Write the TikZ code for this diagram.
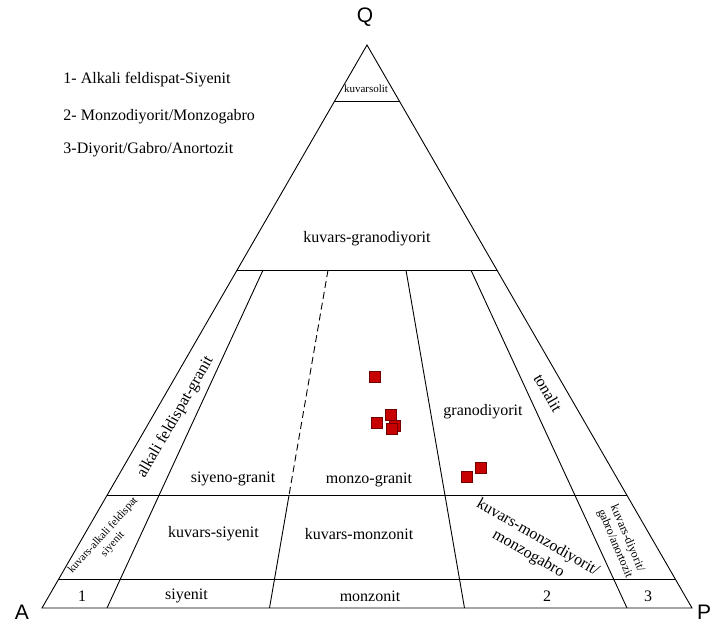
\documentclass[tikz,border=0pt]{standalone}
\usepackage{fontspec}
\setmainfont{Liberation Serif}
\newfontfamily\sansf{Liberation Sans}
\begin{document}
\begin{tikzpicture}[x=1pt,y=-1pt, line width=0.9pt,
  lbl/.style={font=\fontsize{16}{19}\selectfont, align=center, inner sep=0pt},
  smalllbl/.style={font=\fontsize{11}{13.2}\selectfont, align=center, inner sep=0pt},
  leg/.style={font=\fontsize{16}{19}\selectfont, anchor=west, inner sep=0pt},
  vtx/.style={font=\sansf\fontsize{21}{24}\selectfont, inner sep=0pt},
  sample/.style={draw=red!45!black, fill=red!78!black, line width=0.4pt, minimum size=11pt, inner sep=0pt},
  dashline/.style={dashed, dash pattern=on 7pt off 4pt}]
\useasboundingbox (0,0) rectangle (713,626);
\clip (0,0) rectangle (713,626);
% vertices
\coordinate (A) at (42,608);
\coordinate (P) at (692,608);
\coordinate (Q) at (367,45);
% horizontal levels
\coordinate (L90) at (334.5,101.3); \coordinate (R90) at (399.5,101.3);
\coordinate (L60) at (237,270.2);   \coordinate (R60) at (497,270.2);
\coordinate (L20) at (107,495.4);   \coordinate (R20) at (627,495.4);
\coordinate (L05) at (58.25,579.85);\coordinate (R05) at (675.75,579.85);
% radial lines
\coordinate (a60) at (263,270.2); \coordinate (a20) at (159,495.4); \coordinate (a0) at (107,608);
\coordinate (b60) at (328,270.2); \coordinate (b20) at (289,495.4); \coordinate (b0) at (269.5,608);
\coordinate (c60) at (406,270.2); \coordinate (c20) at (445,495.4); \coordinate (c0) at (464.5,608);
\coordinate (d60) at (471,270.2); \coordinate (d20) at (575,495.4); \coordinate (d0) at (627,608);
% outline
\draw (A) -- (P) -- (Q) -- cycle;
\draw (L90) -- (R90);
\draw (L60) -- (R60);
\draw (L20) -- (R20);
\draw (L05) -- (R05);
\draw (a60) -- (a0);
\draw[dashline] (b60) -- (b20);
\draw (b20) -- (b0);
\draw (c60) -- (c0);
\draw (d60) -- (d0);
% vertex labels
\node[vtx] (lQ) at (365,17) {Q};
\node[vtx] (lA) at (22,612.5) {A};
\node[vtx] (lP) at (704,612.5) {P};
% legend
\node[leg] (g1) at (63,80) {1- Alkali feldispat-Siyenit};
\node[leg] (g2) at (63,117) {2- Monzodiyorit/Monzogabro};
\node[leg] (g3) at (63,150) {3-Diyorit/Gabro/Anortozit};
% field labels
\node[smalllbl] (t0) at (366,89) {kuvarsolit};
\node[lbl] (t1) at (367,239) {kuvars-granodiyorit};
\node[lbl, rotate=60] (t2) at (175.5,417.5) {alkali feldispat-granit};
\node[lbl] (t3) at (233,479) {siyeno-granit};
\node[lbl] (t4) at (369,480) {monzo-granit};
\node[lbl] (t5) at (483,412) {granodiyorit};
\node[lbl, rotate=-60] (t6) at (548,393) {tonalit};
\node[smalllbl, rotate=48] (t7) at (108,540) {kuvars-alkali feldispat\\siyenit};
\node[lbl] (t8) at (213.5,534) {kuvars-siyenit};
\node[lbl] (t9) at (359,534) {kuvars-monzonit};
\node[lbl, rotate=-30, align=center] (t10) at (533,546) {kuvars-monzodiyorit/\\monzogabro};
\node[smalllbl, font=\fontsize{12}{13.5}\selectfont, rotate=-67] (t11) at (621,541) {kuvars-diyorit/\\gabro/anortozit};
\node[lbl] (b1) at (82,596) {1};
\node[lbl] (b2) at (186.5,596) {siyenit};
\node[lbl] (b3) at (370,596) {monzonit};
\node[lbl] (b4) at (547,596) {2};
\node[lbl] (b5) at (648,596) {3};
% samples
\node[sample] (s1) at (374.3,376.7) {};
\node[sample] (s2) at (376.7,422.7) {};
\node[sample] (s3) at (391,415) {};
\node[sample] (s4) at (395,425.7) {};
\node[sample] (s5) at (392,429) {};
\node[sample] (s6) at (467,477) {};
\node[sample] (s7) at (480.7,467.7) {};
\end{tikzpicture}
\end{document}
